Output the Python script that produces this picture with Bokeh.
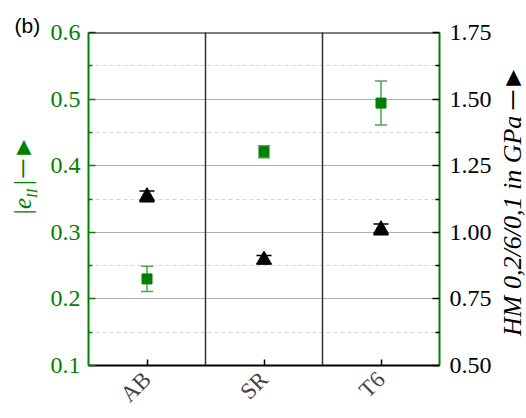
import math
from bokeh.plotting import figure
from bokeh.models import (Range1d, LinearAxis, FixedTicker, NumeralTickFormatter,
                          ColumnDataSource, Whisker, TeeHead, Span, Label)
from bokeh.embed import file_html
from bokeh.resources import INLINE

# ---------------- data ----------------
categories = ["AB", "SR", "T6"]
e_vals = [0.230, 0.421, 0.494]          # |e_II| (left axis)
e_errs = [0.019, 0.009, 0.033]
hm_vals = [1.135, 0.897, 1.011]         # HM 0,2/6/0,1 in GPa (right axis)
hm_errs = [0.020, 0.016, 0.020]

left_ticks = [0.1, 0.2, 0.3, 0.4, 0.5, 0.6]
left_minor = [0.15, 0.25, 0.35, 0.45, 0.55]
right_ticks = [0.5, 0.75, 1.0, 1.25, 1.5, 1.75]
right_minor = [0.625, 0.875, 1.125, 1.375, 1.625]

GREEN = "#008000"
WGREEN = "#4ca64c"
SERIF = "Liberation Serif"

xs = [i + 0.5 for i in range(len(categories))]

p = figure(width=526, height=418, x_range=Range1d(0, len(categories)),
           y_range=Range1d(left_ticks[0], left_ticks[-1]),
           output_backend="svg", toolbar_location=None,
           min_border_left=88, min_border_right=87, min_border_top=32, min_border_bottom=48)
p.extra_y_ranges = {"hm": Range1d(right_ticks[0], right_ticks[-1])}
p.outline_line_color = None
p.xgrid.visible = False

# grid
g = p.ygrid[0]
g.ticker = FixedTicker(ticks=left_ticks, minor_ticks=left_minor)
g.grid_line_color = "#b0b0b0"
g.grid_line_width = 1
g.minor_grid_line_color = "#d6d6d6"
g.minor_grid_line_dash = "4 3"

# left axis
yl = p.yaxis[0]
yl.ticker = FixedTicker(ticks=left_ticks, minor_ticks=left_minor)
yl.formatter = NumeralTickFormatter(format="0.0")
yl.axis_line_color = GREEN
yl.axis_line_width = 2
yl.major_tick_line_color = GREEN
yl.major_tick_line_width = 1.5
yl.major_tick_in = 7
yl.major_tick_out = 0
yl.minor_tick_line_color = GREEN
yl.minor_tick_line_width = 1.5
yl.minor_tick_in = 4
yl.minor_tick_out = 0
yl.major_label_text_color = GREEN
yl.major_label_text_font = SERIF
yl.major_label_text_font_size = "24px"
yl.major_label_standoff = 8

# right axis
yr = LinearAxis(y_range_name="hm", ticker=FixedTicker(ticks=right_ticks, minor_ticks=right_minor),
                formatter=NumeralTickFormatter(format="0.00"))
yr.axis_line_color = GREEN
yr.axis_line_width = 2
yr.major_tick_line_color = "black"
yr.major_tick_line_width = 1.5
yr.major_tick_in = 7
yr.major_tick_out = 0
yr.minor_tick_line_color = "black"
yr.minor_tick_line_width = 1.5
yr.minor_tick_in = 4
yr.minor_tick_out = 0
yr.major_label_text_color = "black"
yr.major_label_text_font = SERIF
yr.major_label_text_font_size = "24px"
yr.major_label_standoff = 10
p.add_layout(yr, "right")

# x axis
xa = p.xaxis[0]
xa.ticker = FixedTicker(ticks=xs, minor_ticks=[])
xa.major_label_overrides = {x: c for x, c in zip(xs, categories)}
xa.major_label_orientation = math.pi / 4
xa.major_label_text_font = SERIF
xa.major_label_text_font_size = "23px"
xa.major_label_standoff = 10
xa.axis_line_color = "black"
xa.axis_line_width = 2
xa.major_tick_line_color = "black"
xa.major_tick_line_width = 1.5
xa.major_tick_in = 6
xa.major_tick_out = 0

# separators and top border
for b in range(1, len(categories)):
    p.add_layout(Span(location=b, dimension="height", line_color="#333333", line_width=1.5))
p.add_layout(Span(location=left_ticks[-1], dimension="width", line_color="black", line_width=2))

# |e_II| series
src_e = ColumnDataSource(dict(x=xs, y=e_vals,
                              upper=[v + e for v, e in zip(e_vals, e_errs)],
                              lower=[v - e for v, e in zip(e_vals, e_errs)]))
p.add_layout(Whisker(source=src_e, base="x", upper="upper", lower="lower",
                     line_color=WGREEN, line_width=1.5,
                     upper_head=TeeHead(size=12, line_color=WGREEN, line_width=1.5),
                     lower_head=TeeHead(size=12, line_color=WGREEN, line_width=1.5)))
p.scatter("x", "y", source=src_e, marker="square", size=10,
          fill_color=GREEN, line_color=GREEN)

# HM series
src_h = ColumnDataSource(dict(x=xs, y=hm_vals,
                              upper=[v + e for v, e in zip(hm_vals, hm_errs)],
                              lower=[v - e for v, e in zip(hm_vals, hm_errs)]))
p.add_layout(Whisker(source=src_h, base="x", upper="upper", lower="lower", y_range_name="hm",
                     line_color="black", line_width=1.2,
                     upper_head=TeeHead(size=15, line_color="black", line_width=1.5),
                     lower_head=TeeHead(size=15, line_color="black", line_width=1.5)))
p.scatter("x", "y", source=src_h, marker="triangle", size=15, y_range_name="hm",
          fill_color="black", line_color="black")

# ---- annotation helpers: canvas pixel -> data coords (frame 88..439 x, 32..370 y) ----
def fx(px):
    return (px - 88) / 351 * len(categories)

def fy(py):
    return left_ticks[-1] - (py - 32) / 338 * (left_ticks[-1] - left_ticks[0])

def lab(panel, text, px, py, size, color="black", style="normal", font=SERIF, angle=math.pi / 2):
    p.add_layout(Label(x=fx(px), y=fy(py), text=text, angle=angle,
                       text_font=font, text_font_size=size, text_color=color,
                       text_font_style=style, text_align="left", text_baseline="middle"),
                 panel)

NB = "\u00a0"

# (b)
lab("above", "(b)", 14, 25, "21px", font="Liberation Sans", angle=0)

# left axis label |e_II| --> (gap for the subscript, which is its own label)
lab("left", "|e" + NB + "\u2009|" + "\u200a" + "\u2500\u25ba", 22, 218, "25px", GREEN, "italic")
lab("left", "II", 32, 200, "14px", GREEN, "italic")

# right axis label
lab("right", "HM 0,2/6/0,1 in GPa" + NB + "\u2500\u25ba", 512, 340, "26px", "black", "italic")

open("out.html", "w").write(file_html(p, INLINE))
